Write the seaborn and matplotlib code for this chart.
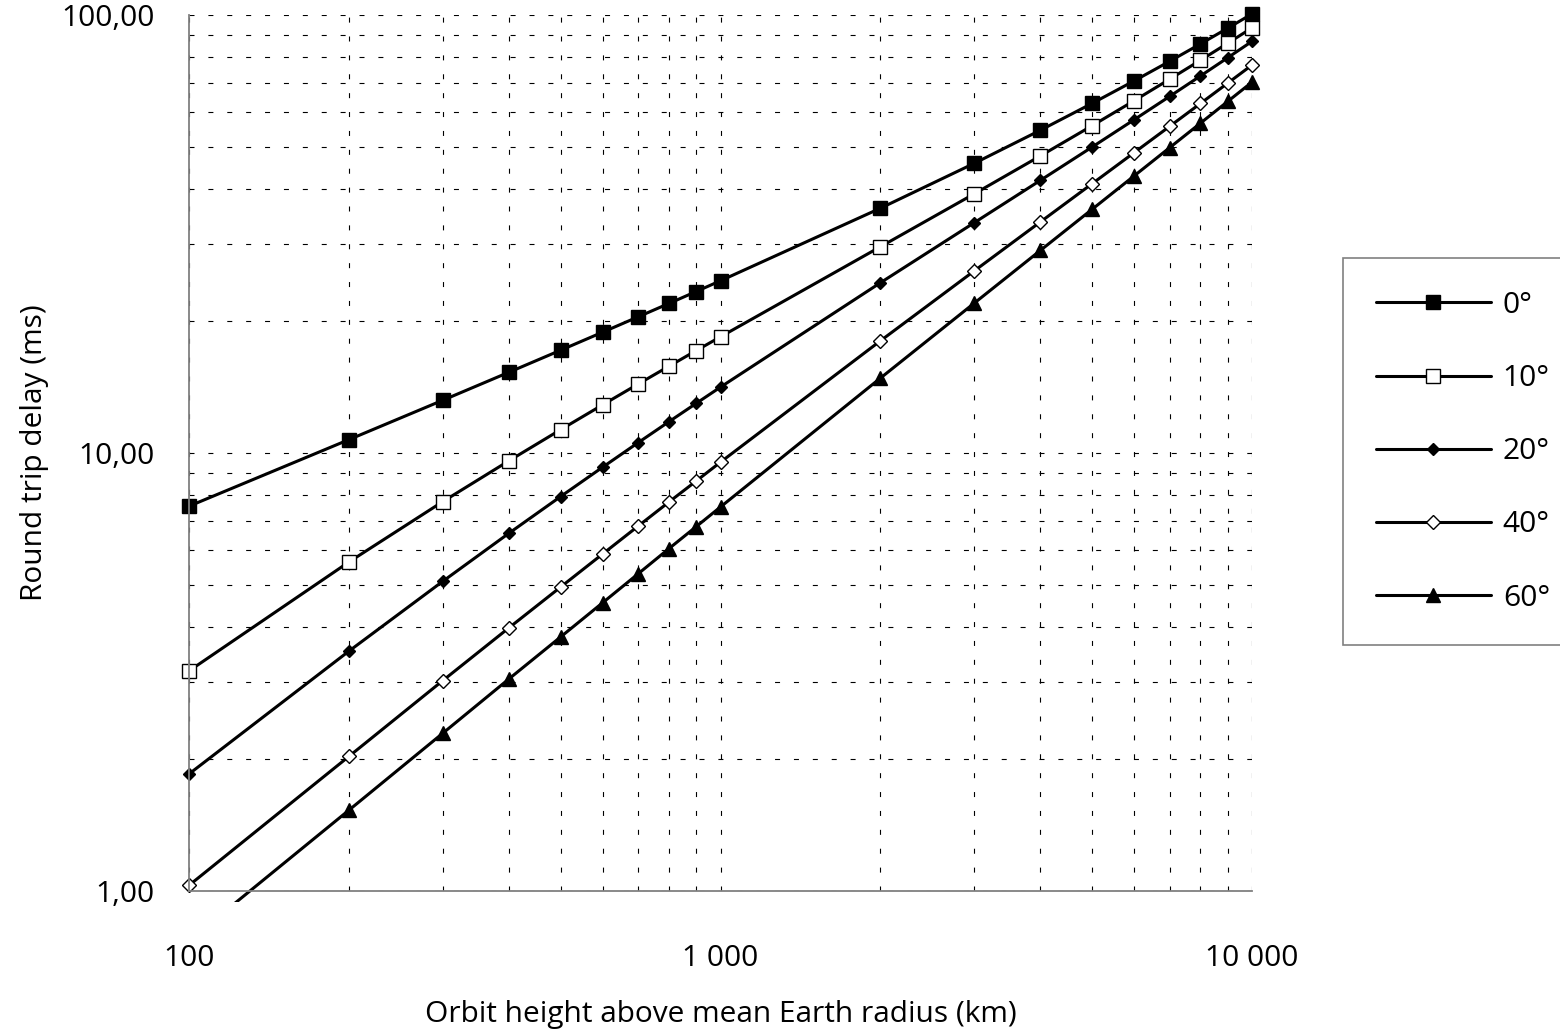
import matplotlib
matplotlib.use("Agg")
import matplotlib.pyplot as plt
import seaborn as sns
from matplotlib.ticker import FixedLocator, NullFormatter, LogLocator
from matplotlib.transforms import Bbox, TransformedBbox

# orbit height (km)
heights = [100, 200, 300, 400, 500, 600, 700, 800, 900, 1000,
           2000, 3000, 4000, 5000, 6000, 7000, 8000, 9000, 10000]

# round trip delay (ms) per elevation angle
delay_0 = [7.56, 10.73, 13.19, 15.29, 17.16, 18.87, 20.46, 21.95, 23.37, 24.73,
           36.22, 45.83, 54.58, 62.82, 70.72, 78.40, 85.91, 93.29, 100.57]
delay_10 = [3.18, 5.64, 7.74, 9.60, 11.30, 12.88, 14.37, 15.78, 17.13, 18.42,
            29.58, 39.04, 47.69, 55.86, 63.72, 71.36, 78.84, 86.20, 93.45]
delay_20 = [1.85, 3.53, 5.09, 6.56, 7.95, 9.28, 10.56, 11.79, 12.98, 14.14,
            24.48, 33.54, 41.94, 49.93, 57.66, 65.19, 72.59, 79.87, 87.07]
delay_40 = [1.03, 2.03, 3.02, 3.99, 4.94, 5.88, 6.81, 7.73, 8.63, 9.53,
            18.04, 26.03, 33.71, 41.17, 48.49, 55.69, 62.82, 69.88, 76.88]
delay_60 = [0.77, 1.53, 2.29, 3.05, 3.80, 4.55, 5.30, 6.05, 6.79, 7.53,
            14.83, 21.97, 29.02, 35.99, 42.91, 49.79, 56.64, 63.47, 70.27]

series_labels = ["0°", "10°", "20°", "40°", "60°"]
x_ticks = [100, 1000, 10000]
x_tick_labels = ["100", "1 000", "10 000"]
y_ticks = [1, 10, 100]
y_tick_labels = ["1,00", "10,00", "100,00"]

sns.set_style("white")
plt.rcParams["font.family"] = ["Open Sans", "DejaVu Sans"]
plt.rcParams["text.color"] = "black"
plt.rcParams["axes.labelcolor"] = "black"

fig = plt.figure(figsize=(15.6, 10.34), dpi=100)
ax = fig.add_axes([189 / 1560, 1 - 891 / 1034, 1063 / 1560, 876 / 1034])

styles = [
    dict(marker="s", markersize=10, markerfacecolor="black"),
    dict(marker="s", markersize=10.5, markerfacecolor="white"),
    dict(marker="D", markersize=6.5, markerfacecolor="black"),
    dict(marker="D", markersize=7.5, markerfacecolor="white"),
    dict(marker="^", markersize=9.5, markerfacecolor="black"),
]
all_delays = [delay_0, delay_10, delay_20, delay_40, delay_60]

for delays, lab, st in zip(all_delays, series_labels, styles):
    sns.lineplot(x=heights, y=delays, ax=ax, color="black", linewidth=2.2,
                 markeredgecolor="black", markeredgewidth=1.0, label=lab,
                 legend=False, **st)

ax.set_xscale("log")
ax.set_yscale("log")
ax.set_xlim(100, 10000)
ax.set_ylim(1, 100)

# let lines/markers spill slightly past the plot frame, like the original
px, py = 10 / 1063, 11 / 876
clip = TransformedBbox(Bbox([[-px, -py], [1 + px, 1 + py]]), ax.transAxes)
for ln in ax.lines:
    ln.set_clip_box(clip)

ax.xaxis.set_major_locator(FixedLocator(x_ticks))
ax.set_xticklabels(x_tick_labels)
ax.yaxis.set_major_locator(FixedLocator(y_ticks))
ax.set_yticklabels(y_tick_labels)
ax.xaxis.set_minor_locator(LogLocator(base=10, subs=range(2, 10)))
ax.yaxis.set_minor_locator(LogLocator(base=10, subs=range(2, 10)))
ax.xaxis.set_minor_formatter(NullFormatter())
ax.yaxis.set_minor_formatter(NullFormatter())

ax.grid(True, which="both", axis="both", color="black",
        linestyle=(0, (4.5, 12.5)), linewidth=0.8)
ax.set_axisbelow(True)

for side in ["top", "right"]:
    ax.spines[side].set_visible(False)
for side in ["left", "bottom"]:
    ax.spines[side].set_color("#808080")
    ax.spines[side].set_linewidth(1.3)

ax.tick_params(which="major", direction="inout", length=16, width=1.2,
               color="#404040", labelsize=21.5, labelcolor="black")
ax.tick_params(axis="y", which="major", pad=17)
ax.tick_params(axis="x", which="major", pad=30)
ax.tick_params(which="minor", direction="in", length=4, width=1.0,
               color="#404040")

ax.set_xlabel("Orbit height above mean Earth radius (km)", fontsize=21.5)
ax.set_ylabel("Round trip delay (ms)", fontsize=21.5)
ax.xaxis.set_label_coords(0.5, -0.124)
ax.yaxis.set_label_coords(-0.1315, 0.5)

handles, labels = ax.get_legend_handles_labels()
leg = fig.legend(handles, labels, loc="upper left",
                 bbox_to_anchor=(1343 / 1560, 1 - 258 / 1034),
                 fontsize=21.5, frameon=True, fancybox=False, shadow=False,
                 handlelength=3.85, handletextpad=0.4, labelspacing=1.48,
                 borderpad=1.1, borderaxespad=0, labelcolor="black")
leg.get_frame().set_edgecolor("#808080")
leg.get_frame().set_linewidth(1.2)
leg.get_frame().set_alpha(1)

plt.savefig("out.png", dpi=100)
